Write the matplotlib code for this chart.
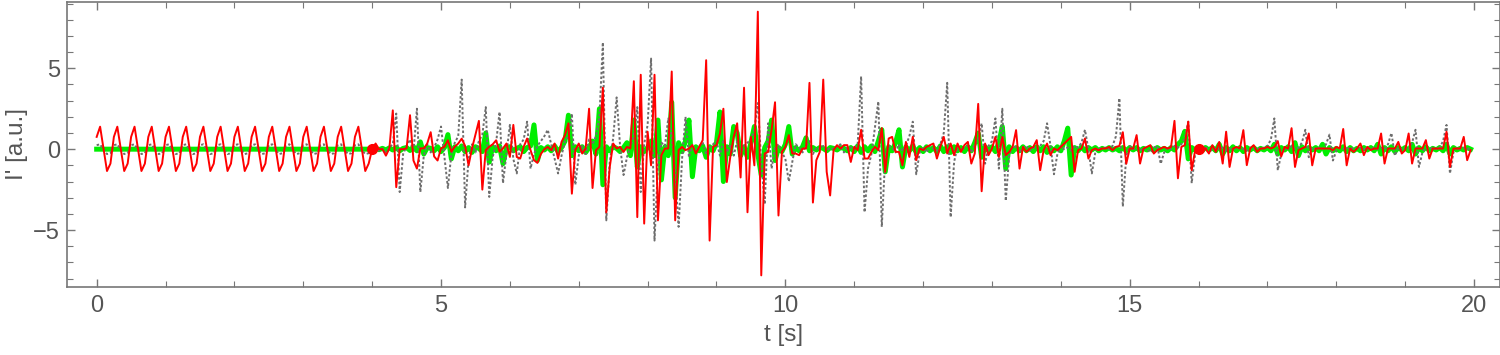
import numpy as np
import matplotlib.pyplot as plt

# samples every 0.05 s, 0 .. 19.95 s
dt = 0.05

red = [
    0.76, 1.39, 0.0, -1.35, -0.89, 0.76, 1.39, 0.0, -1.35, -0.89, 0.76, 1.39, 0.0, -1.35, -0.89, 0.76, 1.39, 0.0, -1.35, -0.89,
    0.76, 1.39, 0.0, -1.35, -0.89, 0.76, 1.39, 0.0, -1.35, -0.89, 0.76, 1.39, 0.0, -1.35, -0.89, 0.76, 1.39, 0.0, -1.35, -0.89,
    0.76, 1.39, 0.0, -1.35, -0.89, 0.76, 1.39, 0.0, -1.35, -0.89, 0.76, 1.39, 0.0, -1.35, -0.89, 0.76, 1.39, 0.0, -1.35, -0.89,
    0.76, 1.39, 0.0, -1.35, -0.89, 0.76, 1.39, 0.0, -1.35, -0.89, 0.76, 1.39, 0.0, -1.35, -0.89, 0.76, 1.39, 0.0, -1.35, -0.89,
    0.0, 0.35, 0.0, 0.0, -0.4, 0.05, 2.4, -2.35, 0.0, 0.0, 0.05, 2.1, -0.7, -1.2, 0.05, 0.05, 0.35, 1.05, -0.45, -0.7,
    0.05, 0.15, 0.55, -0.15, 0.15, 0.35, 0.65, 0.2, -1.0, 0.05, 0.9, 1.75, -2.5, -0.05, 0.15, 0.3, 0.55, -0.15, 0.05, 0.35,
    -0.48, 1.5, -0.48, -0.58, 0.14, 0.66, -0.06, -0.68, -0.85, -0.3, 0.0, 0.14, -0.06, 0.35, -0.58, 0.45, 0.87, 1.6, -2.75, -0.06,
    0.35, -0.27, 0.04, 2.5, -2.4, -0.06, 0.14, 3.8, -3.9, -1.1, 0.35, 0.04, 0.14, -0.17, 0.14, 0.04, 4.2, -4.2, 4.6, -4.6,
    1.08, -1.0, 4.6, -4.4, -0.37, 0.04, 0.04, 4.8, -4.4, -0.06, 0.14, -0.06, 0.04, 0.25, -0.27, 0.14, 0.56, 5.5, -5.65, 0.14,
    0.25, 0.97, 2.5, -2.03, -0.48, 0.76, 1.6, -1.75, 3.8, -3.9, 0.76, -1.0, 8.5, -7.8, -0.27, -0.17, 1.2, 2.9, -4.1, -0.17,
    0.14, 0.87, -0.27, -0.27, -0.37, 0.04, 0.04, 4.1, -3.3, -0.68, -0.17, 4.3, -1.4, -2.86, -0.06, 0.25, 0.04, 0.25, 0.25, -0.79,
    0.14, -0.06, 1.2, -0.58, -0.58, -0.17, 0.14, -0.06, 1.3, -1.4, 0.66, 0.76, -0.17, -0.17, -1.0, 0.45, -0.48, 0.76, -0.68, 0.04,
    -0.06, 0.14, 0.25, 0.35, -0.58, 0.14, 0.76, -0.27, 0.35, -0.37, 0.35, -0.17, 0.25, 0.45, -0.89, -0.27, 2.8, -2.6, 0.35, -0.37,
    0.04, 0.76, -0.48, 0.76, -0.37, -0.17, 0.14, 1.18, -1.2, 0.14, -0.17, 0.04, 0.14, 0.56, -1.3, -0.06, 0.35, -0.37, 0.04, -0.06,
    0.14, 0.35, 0.56, 0.76, -1.4, -0.06, 0.04, 0.66, -0.58, -0.06, 0.04, -0.06, 0.04, 0.04, 0.14, -0.06, 0.14, 0.2, 1.05, -0.9,
    0.04, 0.04, 0.87, -0.89, 0.04, 0.14, 0.25, -0.27, -0.06, 0.04, 0.14, 0.04, 0.14, 1.75, -1.8, 0.14, 0.25, 1.7, -1.3, -0.06,
    0.0, 0.04, 0.04, -0.27, 0.25, -0.17, 0.45, -0.89, 1.08, -1.1, 0.04, 0.14, 0.04, 1.18, -0.99, 0.04, 0.25, -0.17, 0.04, 0.04,
    0.14, 0.04, 0.14, 0.5, -0.45, 0.14, 0.04, 1.3, -1.1, -0.06, 0.04, 0.14, 0.97, -1.0, 0.04, 0.04, 0.04, 0.04, 0.04, -0.06,
    0.14, 0.04, 1.25, -1.0, 0.04, -0.17, 0.04, 0.35, -0.37, 0.14, -0.06, 0.04, 0.04, 0.97, -0.89, 0.04, 0.04, 0.04, 0.45, -0.27,
    -0.06, 0.97, -0.89, 0.04, 0.04, 0.04, 0.56, -0.58, 0.04, 0.04, 0.04, 0.04, 1.08, -1.1, 0.04, 0.04, 0.04, 0.76, -0.68, -0.06,
]

gray = [
    0.25, 0.3, -0.05, -0.3, -0.25, 0.25, 0.3, -0.05, -0.3, -0.25, 0.25, 0.3, -0.05, -0.3, -0.25, 0.25, 0.3, -0.05, -0.3, -0.25,
    0.25, 0.3, -0.05, -0.3, -0.25, 0.25, 0.3, -0.05, -0.3, -0.25, 0.25, 0.3, -0.05, -0.3, -0.25, 0.25, 0.3, -0.05, -0.3, -0.25,
    0.25, 0.3, -0.05, -0.3, -0.25, 0.25, 0.3, -0.05, -0.3, -0.25, 0.25, 0.3, -0.05, -0.3, -0.25, 0.25, 0.3, -0.05, -0.3, -0.25,
    0.25, 0.3, -0.05, -0.3, -0.25, 0.25, 0.3, -0.05, -0.3, -0.25, 0.25, 0.3, -0.05, -0.3, -0.25, 0.25, 0.3, -0.05, -0.3, -0.25,
    0.0, 0.1, -0.1, 0.05, -0.2, 0.1, 0.3, 2.2, -2.65, -0.3, 0.2, 0.6, -0.2, 2.5, -2.65, -0.4, 0.3, -0.2, 0.1, 0.6,
    1.4, -0.5, -2.4, -0.3, 0.4, 0.8, 4.3, -3.6, -0.6, 0.3, -0.2, 0.5, 0.9, 2.6, -2.95, -0.5, 0.4, 2.3, -2.1, -0.3,
    1.5, -0.6, -1.5, 0.3, 0.6, 1.7, -1.2, -0.3, 0.2, 0.5, 0.8, 1.2, 0.3, -0.6, -1.5, -0.4, 0.5, 0.8, 2.2, -2.2,
    -0.4, 0.2, -0.3, 0.6, 0.3, 0.8, 2.0, 6.6, -4.4, -0.8, 0.7, 3.2, 0.2, -1.6, -0.5, 0.2, 0.8, 2.6, -2.65, 0.3,
    1.5, 5.6, -5.65, -1.0, 0.4, 0.2, 1.9, 0.8, -1.5, -4.8, -0.6, 2.0, -0.5, 0.3, -0.2, 0.2, 0.4, -0.3, 0.1, 0.3,
    0.5, -0.4, 0.6, -0.2, 0.3, -0.4, 0.5, -0.3, 0.2, 0.4, 0.6, 1.2, 2.85, -0.8, -3.4, 1.6, -1.2, 0.1, 0.3, -0.2,
    -0.6, -2.0, -0.8, 0.3, 0.1, -0.2, 0.2, 0.5, -0.3, 0.1, 0.0, 0.2, -0.1, 0.1, 0.0, 0.2, 0.3, -0.2, 0.1, 0.1,
    0.1, 0.3, 4.5, -3.9, -1.2, -0.3, 1.3, 2.95, -4.8, -0.5, 0.2, 0.1, -0.2, 0.3, -0.1, 0.2, 0.8, 1.7, -1.55, -0.2,
    0.1, -0.2, 0.2, 0.0, -0.1, 0.3, 1.0, 4.1, -4.2, -0.8, 0.2, -0.1, 0.1, 0.2, -0.2, 0.3, 0.6, 1.6, -0.9, 0.2,
    0.5, 1.9, -1.2, 2.5, -3.2, -0.4, 0.2, 0.1, -0.2, 0.1, 0.2, -0.1, 0.1, 0.0, 0.2, 0.5, 1.6, 0.2, -1.55, -0.3,
    0.2, 0.0, 0.1, -0.1, 0.2, 0.1, 0.4, 1.2, 0.0, -1.5, -0.2, 0.1, 0.0, 0.1, 0.0, 0.2, 0.8, 3.15, -3.55, -0.4,
    0.2, 0.0, 0.1, -0.1, 0.1, 0.0, -0.2, 0.1, 0.2, -0.9, -0.2, 0.1, 0.0, 0.2, 0.1, 0.3, 0.7, 1.7, -2.1, -0.3,
    0.1, 0.0, 0.1, 0.0, -0.1, 0.1, 0.0, 0.1, -0.1, 0.0, 0.1, 0.0, 0.1, 0.0, -0.1, 0.1, 0.0, 0.1, 0.0, 0.1,
    0.2, 0.6, 1.9, -1.3, -0.3, 0.1, 0.0, 0.2, 0.0, 0.1, 0.4, 1.2, -0.5, 0.1, 0.0, 0.1, 0.0, 0.3, 0.9, -0.7,
    -0.1, 0.1, 0.0, 0.1, 0.0, 0.1, 0.0, 0.1, 0.0, 0.1, 0.0, 0.1, 0.0, 0.1, 0.0, 0.3, 1.0, -0.4, 0.1, 0.0,
    0.1, 0.0, 0.4, 1.2, -1.1, -0.2, 0.1, 0.0, 0.1, 0.0, 0.1, 0.5, 1.5, -1.5, -0.2, 0.1, 0.0, 0.1, 0.0, 0.1,
]

green = [
    0.0, 0.0, 0.0, 0.0, 0.0, 0.0, 0.0, 0.0, 0.0, 0.0, 0.0, 0.0, 0.0, 0.0, 0.0, 0.0, 0.0, 0.0, 0.0, 0.0,
    0.0, 0.0, 0.0, 0.0, 0.0, 0.0, 0.0, 0.0, 0.0, 0.0, 0.0, 0.0, 0.0, 0.0, 0.0, 0.0, 0.0, 0.0, 0.0, 0.0,
    0.0, 0.0, 0.0, 0.0, 0.0, 0.0, 0.0, 0.0, 0.0, 0.0, 0.0, 0.0, 0.0, 0.0, 0.0, 0.0, 0.0, 0.0, 0.0, 0.0,
    0.0, 0.0, 0.0, 0.0, 0.0, 0.0, 0.0, 0.0, 0.0, 0.0, 0.0, 0.0, 0.0, 0.0, 0.0, 0.0, 0.0, 0.0, 0.0, 0.0,
    0.0, 0.03, -0.03, 0.05, -0.05, 0.08, -0.05, 0.1, -0.1, 0.05, 0.1, -0.08, 0.15, -0.1, 0.45, -0.3, 0.1, 0.05, -0.1, 0.15,
    -0.15, 0.1, 0.9, -0.6, 0.15, -0.1, 0.2, -0.15, 0.1, -0.2, 0.15, 0.05, -0.15, 1.0, -0.8, 0.15, -0.1, 0.2, -0.9, 0.1,
    0.15, -0.1, 0.05, 0.15, -0.15, 0.1, 0.2, 1.5, -0.7, 0.1, -0.05, 0.15, -0.1, 0.2, -0.15, 0.1, 0.5, 2.1, -0.4, 0.15,
    -0.1, 0.15, -0.2, 0.1, 0.5, -0.3, 2.5, -2.2, 0.15, -0.1, 0.15, 0.05, -0.15, 0.1, 0.4, -0.4, 1.8, -1.1, 0.15, -0.15,
    0.1, 0.5, -0.4, 1.8, -1.9, 0.15, -0.4, 2.9, -3.0, 0.4, -0.15, 0.5, 1.8, -1.7, 0.15, -0.1, 0.2, -0.5, 0.15, -0.1,
    0.4, 2.3, -2.0, 0.15, -0.3, 1.4, 1.0, -0.4, 0.15, -0.5, 0.4, 1.4, -0.3, -1.6, 0.1, 0.5, 1.8, -0.7, 0.1, -0.15,
    0.3, 1.4, -0.3, 0.1, -0.1, 0.15, 0.7, -0.1, 0.1, -0.05, 0.1, 0.05, -0.1, 0.1, 0.05, -0.05, 0.1, 0.05, -0.1, 0.1,
    -0.15, 0.2, -0.2, 0.15, -0.1, 0.2, -0.15, 0.5, 1.2, -1.4, 0.15, -0.1, 0.4, 1.2, -1.1, 0.15, -0.1, 0.2, -0.2, 0.1,
    -0.15, 0.15, -0.1, 0.1, -0.15, 0.2, -0.15, 0.15, -0.2, 0.15, -0.1, 0.1, -0.15, 0.15, -0.1, 0.4, 1.0, -0.5, 0.15, -0.1,
    0.15, -0.15, 0.4, 1.4, -1.2, 0.15, -0.15, 0.1, -0.1, 0.15, -0.1, 0.1, -0.15, 0.15, -0.1, 0.15, -0.2, 0.1, -0.1, 0.15,
    -0.1, 0.5, 1.3, -1.6, 0.1, -0.1, 0.15, -0.1, 0.1, -0.05, 0.1, -0.1, 0.05, -0.05, 0.1, -0.05, 0.05, -0.1, 0.1, -0.1,
    0.1, -0.05, 0.1, -0.1, 0.05, -0.05, 0.1, -0.1, 0.1, -0.05, 0.05, -0.1, 0.1, -0.05, 0.3, 0.5, 1.1, -0.6, 0.1, -0.05,
    0.05, -0.1, 0.1, -0.05, 0.1, -0.1, 0.3, -0.3, 0.1, -0.1, 0.15, -0.1, 0.1, -0.15, 0.1, -0.05, 0.1, -0.1, 0.05, -0.05,
    0.1, -0.1, 0.3, -0.3, 0.1, -0.05, 0.15, -0.15, 0.4, -0.4, 0.15, -0.1, 0.1, -0.05, 0.1, -0.1, 0.3, -0.3, 0.1, -0.1,
    0.05, -0.1, 0.15, -0.15, 0.1, -0.1, 0.05, -0.1, 0.1, -0.05, 0.1, -0.1, 0.3, -0.3, 0.1, -0.1, 0.15, -0.15, 0.1, -0.05,
    0.1, -0.1, 0.3, -0.3, 0.1, -0.1, 0.15, -0.1, 0.05, -0.05, 0.1, -0.1, 0.3, -0.3, 0.1, -0.05, 0.05, -0.05, 0.1, 0.0,
]

dots_t = [4, 16]
dots_y = [0, 0]

t = np.arange(len(red)) * dt

plt.rcParams['font.family'] = ['Liberation Sans', 'DejaVu Sans']
fig = plt.figure(figsize=(15, 3.55), dpi=100)
ax = fig.add_axes([0.0447, 0.1915, 0.955, 0.803])

ax.plot(t, green, color='#00ee00', lw=3.6, solid_joinstyle='round', zorder=2)
ax.plot(t, gray, color='#6e6e6e', lw=1.4, ls=(0, (1.3, 1.1)), zorder=3)
ax.plot(t, red, color='#ff0000', lw=1.4, zorder=4)
ax.plot(dots_t, dots_y, 'o', color='#ff0000', ms=7, zorder=5)

ax.set_xlim(-0.43, 20.37)
ax.set_ylim(-8.52, 9.10)
ax.set_xticks([0, 5, 10, 15, 20])
ax.set_xticks(np.arange(0, 21, 1), minor=True)
ax.set_yticks([-5, 0, 5])
ax.set_yticklabels(['\u22125', '0', '5'])
ax.set_yticks(np.arange(-8, 10, 1), minor=True)

for s in ax.spines.values():
    s.set_color('#777777')
    s.set_linewidth(1.2)
ax.tick_params(which='both', direction='in', top=True, right=True, color='#777777',
               labelcolor='#555555', labelsize=17)
ax.tick_params(which='major', length=6, width=1)
ax.tick_params(which='minor', length=4, width=0.8)
ax.tick_params(axis='x', pad=6)
ax.tick_params(axis='y', pad=5)

ax.set_xlabel('t [s]', fontsize=17.5, color='#555555', labelpad=5)
ax.set_ylabel("I' [a.u.]", fontsize=17.5, color='#555555', labelpad=4)

fig.savefig('out.png', dpi=100)
